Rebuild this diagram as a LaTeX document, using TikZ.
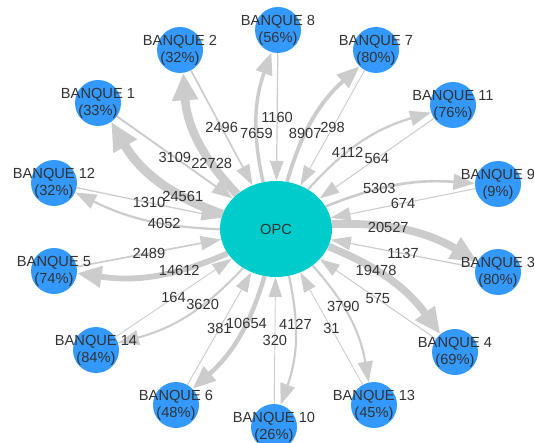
\documentclass[tikz,border=0pt]{standalone}
\usepackage{fontspec}
\setmainfont{Liberation Sans}
\usetikzlibrary{shapes,arrows.meta,backgrounds}
\definecolor{bankblue}{RGB}{51,153,255}
\definecolor{opcteal}{RGB}{0,204,204}
\definecolor{edgegray}{RGB}{204,204,204}
\definecolor{labelgray}{RGB}{51,51,51}
\tikzset{
  bank/.style={circle, fill=bankblue, minimum size=1.38cm, inner sep=0pt},
  banktext/.style={align=center, text=labelgray, font=\fontsize{12.5}{14.5}\selectfont},
  % flow width given in thousands
  flow/.style={draw=edgegray, line width=0.7pt+0.29pt*#1, -{Triangle[length=16pt 1, width=10pt 1.5]}},
  amount/.style={text=labelgray, font=\fontsize{12.5}{14.5}\selectfont, inner sep=1pt}
}

\begin{document}
\begin{tikzpicture}[x=0.03cm, y=0.03cm]
\useasboundingbox (0,0) rectangle (534,442);
% central node
\node [ellipse, fill=opcteal, minimum width=3.36cm, minimum height=2.88cm, text=labelgray, font=\fontsize{12.5}{14.5}\selectfont] (opc) at (276,213) {OPC};
% banks
\node [bank, label={[banktext]center:{BANQUE 8\\(56\%)}}] (b8) at (278,412) {};
\node [bank, label={[banktext]center:{BANQUE 7\\(80\%)}}] (b7) at (376,392) {};
\node [bank, label={[banktext]center:{BANQUE 11\\(76\%)}}] (b11) at (453,337) {};
\node [bank, label={[banktext]center:{BANQUE 9\\(9\%)}}] (b9) at (498,258) {};
\node [bank, label={[banktext]center:{BANQUE 3\\(80\%)}}] (b3) at (498,170) {};
\node [bank, label={[banktext]center:{BANQUE 4\\(69\%)}}] (b4) at (455,90) {};
\node [bank, label={[banktext]center:{BANQUE 13\\(45\%)}}] (b13) at (374,37) {};
\node [bank, label={[banktext]center:{BANQUE 10\\(26\%)}}] (b10) at (274,15) {};
\node [bank, label={[banktext]center:{BANQUE 6\\(48\%)}}] (b6) at (176,37) {};
\node [bank, label={[banktext]center:{BANQUE 14\\(84\%)}}] (b14) at (96,92) {};
\node [bank, label={[banktext]center:{BANQUE 5\\(74\%)}}] (b5) at (54,171) {};
\node [bank, label={[banktext]center:{BANQUE 12\\(32\%)}}] (b12) at (54,259) {};
\node [bank, label={[banktext]center:{BANQUE 1\\(33\%)}}] (b1) at (98,339) {};
\node [bank, label={[banktext]center:{BANQUE 2\\(32\%)}}] (b2) at (180,392) {};
% flows out of OPC (curved) and into OPC (straight)
\begin{pgfonlayer}{background}
\draw[flow=7.659] (opc) to[bend left=16] node[amount, pos=0.36]{7659} (b8);
\draw[flow=1.160] (b8) -- node[amount]{1160} (opc);
\draw[flow=8.907] (opc) to[bend left=16] node[amount, pos=0.36]{8907} (b7);
\draw[flow=0.298] (b7) -- node[amount]{298} (opc);
\draw[flow=4.112] (opc) to[bend left=16] node[amount, pos=0.36]{4112} (b11);
\draw[flow=0.564] (b11) -- node[amount]{564} (opc);
\draw[flow=5.303] (opc) to[bend left=13] node[amount, pos=0.36]{5303} (b9);
\draw[flow=0.674] (b9) -- node[amount]{674} (opc);
\draw[flow=20.527] (opc) to[bend left=16] node[amount, pos=0.36]{20527} (b3);
\draw[flow=1.137] (b3) -- node[amount]{1137} (opc);
\draw[flow=19.478] (opc) to[bend left=16] node[amount, pos=0.36]{19478} (b4);
\draw[flow=0.575] (b4) -- node[amount]{575} (opc);
\draw[flow=3.790] (opc) to[bend left=16] node[amount, pos=0.38]{3790} (b13);
\draw[flow=0.031] (b13) -- node[amount]{31} (opc);
\draw[flow=4.127] (opc) to[bend left=16] node[amount, pos=0.36]{4127} (b10);
\draw[flow=0.320] (b10) -- node[amount]{320} (opc);
\draw[flow=10.654] (opc) to[bend left=16] node[amount, pos=0.36]{10654} (b6);
\draw[flow=0.381] (b6) -- node[amount]{381} (opc);
\draw[flow=3.620] (opc) to[bend left=16] node[amount, pos=0.36]{3620} (b14);
\draw[flow=0.164] (b14) -- node[amount]{164} (opc);
\draw[flow=14.612] (opc) to[bend left=16] node[amount, pos=0.32]{14612} (b5);
\draw[flow=2.489] (b5) -- node[amount]{2489} (opc);
\draw[flow=4.052] (opc) to[bend left=12] node[amount, pos=0.36]{4052} (b12);
\draw[flow=1.310] (b12) -- node[amount]{1310} (opc);
\draw[flow=24.561] (opc) to[bend left=20] node[amount, pos=0.28]{24561} (b1);
\draw[flow=3.109] (b1) -- node[amount]{3109} (opc);
\draw[flow=22.728] (opc) to[bend left=20] node[amount, pos=0.28]{22728} (b2);
\draw[flow=2.496] (b2) -- node[amount]{2496} (opc);
\end{pgfonlayer}
\end{tikzpicture}
\end{document}
